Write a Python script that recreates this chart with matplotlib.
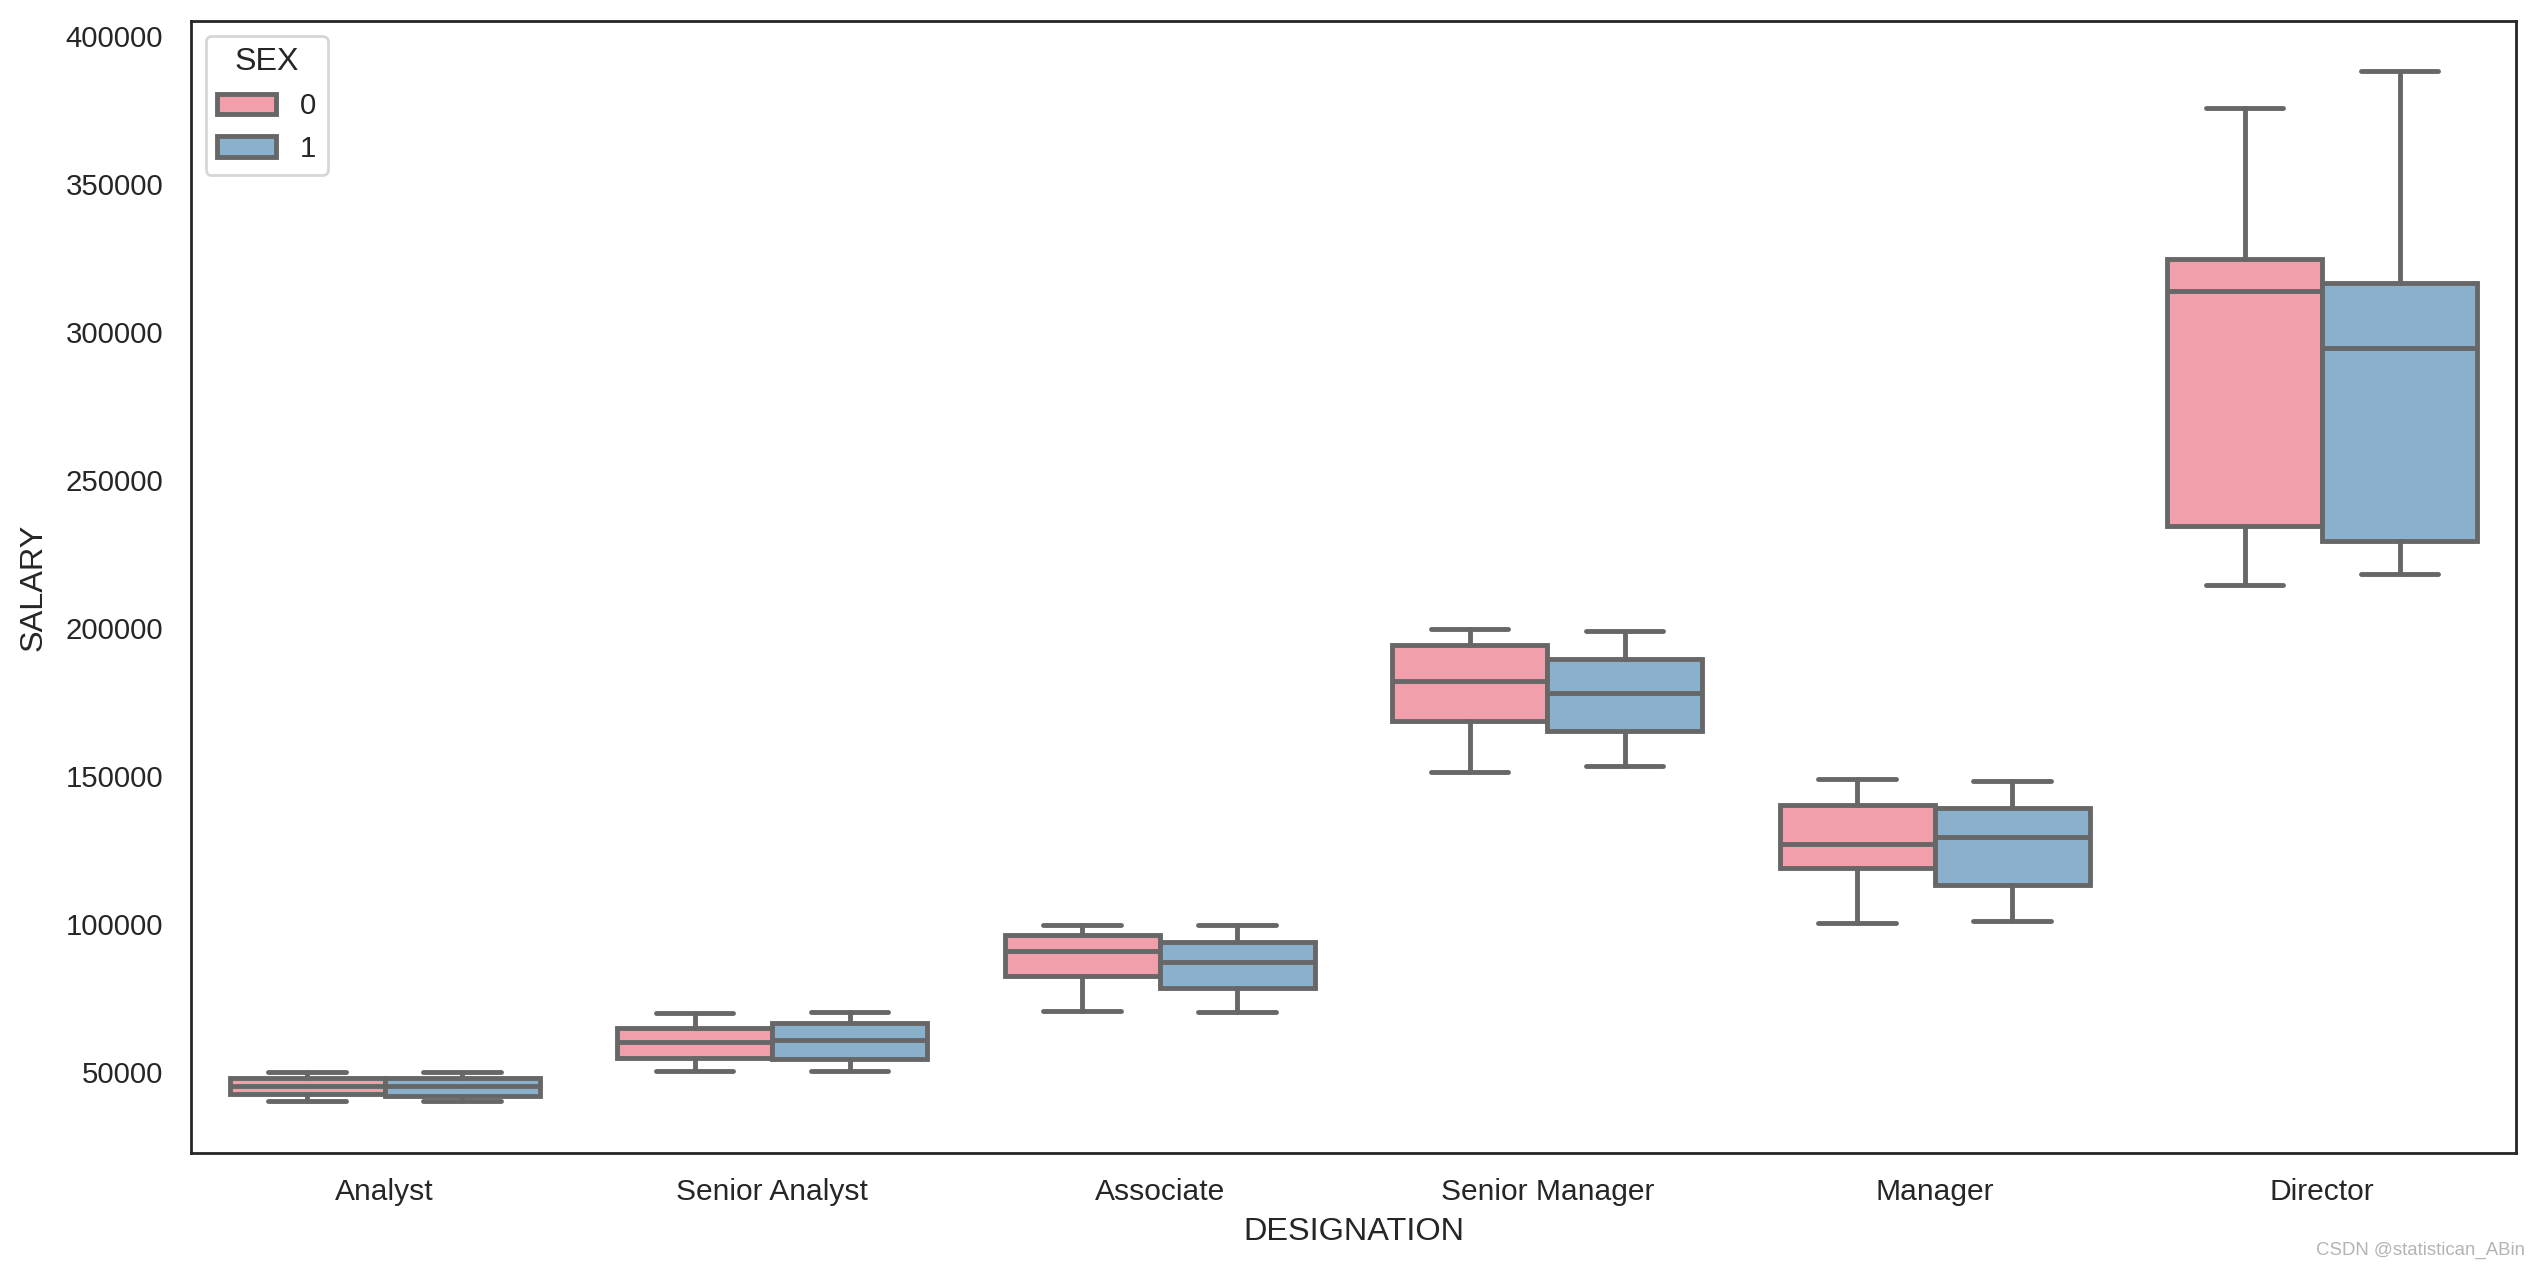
import matplotlib
matplotlib.use("Agg")
import matplotlib.pyplot as plt
import seaborn as sns
from matplotlib.patches import Patch

# box stats: (whislo, q1, med, q3, whishi) per designation
designations = ["Analyst", "Senior Analyst", "Associate", "Senior Manager", "Manager", "Director"]
sexes = ["0", "1"]

sex0_whislo = [40300, 50450, 70700, 151300, 100400, 214300]
sex0_q1 = [42500, 54600, 82500, 168600, 118800, 234300]
sex0_med = [45300, 60300, 91000, 182100, 127100, 313800]
sex0_q3 = [48000, 64900, 96300, 194200, 140300, 324500]
sex0_whishi = [50100, 70000, 99700, 199700, 149000, 375600]

sex1_whislo = [40300, 50450, 70300, 153400, 101100, 218200]
sex1_q1 = [42000, 54400, 78500, 165300, 113200, 229200]
sex1_med = [45300, 60900, 87300, 178000, 129500, 294400]
sex1_q3 = [48100, 66600, 94000, 189500, 139300, 316400]
sex1_whishi = [50100, 70400, 99700, 198900, 148400, 388100]

colors = ["#F29FAC", "#8AB0CB"]
edge = "#676767"

sns.set_style("white")
plt.rcParams['font.family'] = ['Liberation Sans', 'DejaVu Sans']
plt.rcParams['axes.edgecolor'] = '.15'
plt.rcParams['axes.linewidth'] = 1.0


def make_stats(lo, q1, med, q3, hi):
    out = []
    for i in range(len(lo)):
        out.append({"whislo": lo[i], "q1": q1[i], "med": med[i], "q3": q3[i], "whishi": hi[i], "fliers": []})
    return out


fig = plt.figure(figsize=(12.675, 6.345), dpi=200)
ax = fig.add_subplot(111)
fig.subplots_adjust(left=0.0753, right=0.9925, top=0.9835, bottom=0.0914)

groups = [make_stats(sex0_whislo, sex0_q1, sex0_med, sex0_q3, sex0_whishi),
          make_stats(sex1_whislo, sex1_q1, sex1_med, sex1_q3, sex1_whishi)]
offsets = [-0.2, 0.2]
lw = 1.75
for g in range(2):
    pos = [i + offsets[g] for i in range(len(designations))]
    ax.bxp(groups[g], positions=pos, widths=0.4, capwidths=0.2, patch_artist=True,
           showfliers=False,
           boxprops=dict(facecolor=colors[g], edgecolor=edge, linewidth=lw),
           whiskerprops=dict(color=edge, linewidth=lw),
           capprops=dict(color=edge, linewidth=lw, solid_capstyle='round'),
           medianprops=dict(color=edge, linewidth=lw))

ax.set_xlim(-0.5, len(designations) - 0.5)
ax.set_ylim(22660, 404930)
ax.set_xticks(range(len(designations)))
ax.set_xticklabels(designations)
ax.tick_params(axis='both', length=0, colors='.15')
ax.tick_params(axis='y', pad=10, labelsize=10.6)
ax.tick_params(axis='x', pad=9, labelsize=10.8)
ax.set_xlabel("DESIGNATION", fontsize=11.7, color='.15', labelpad=4)
ax.set_ylabel("SALARY", fontsize=11.7, color='.15', labelpad=6)

handles = [Patch(facecolor=colors[g], edgecolor=edge, linewidth=lw) for g in range(2)]
leg = ax.legend(handles, sexes, title="SEX", loc="upper left", fontsize=10.6, title_fontsize=11.6)

fig.text(0.996, 0.015, "CSDN @statistican_ABin", ha='right', va='center', fontsize=6.7, color='#b4b4b4')

plt.savefig("out.png", dpi=200)
